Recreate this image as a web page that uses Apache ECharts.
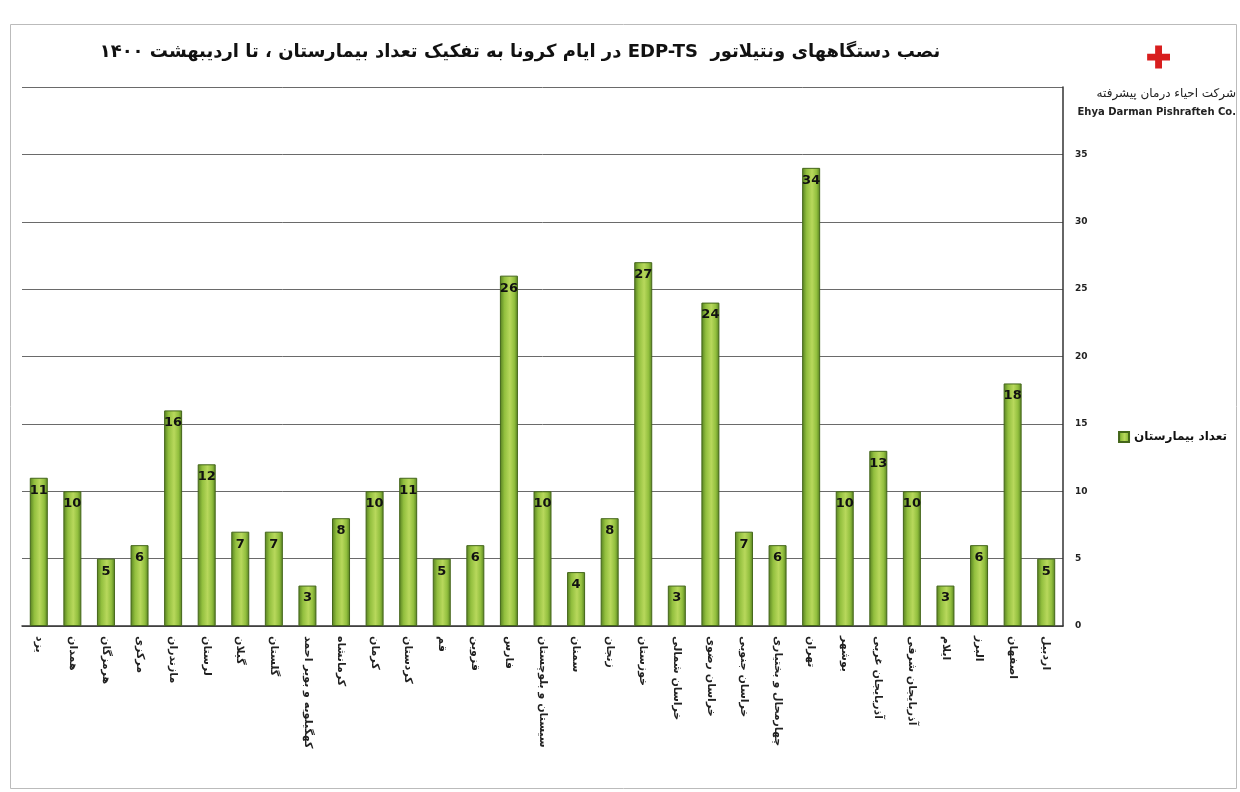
<!DOCTYPE html>
<html>
<head>
<meta charset="utf-8">
<script src="https://cdn.jsdelivr.net/npm/echarts@6/dist/echarts.min.js"></script>
<style>
  html, body { margin: 0; padding: 0; background: #fff; }
  #chart { width: 1240px; height: 792px; }
</style>
</head>
<body>
<div id="chart"></div>
<script>
// provinces, left to right as in the picture
var provinces = ['یزد', 'همدان', 'هرمزگان', 'مرکزی', 'مازندران', 'لرستان', 'گیلان', 'گلستان',
  'کهگیلویه و بویر احمد', 'کرمانشاه', 'کرمان', 'کردستان', 'قم', 'قزوین', 'فارس',
  'سیستان و بلوچستان', 'سمنان', 'زنجان', 'خوزستان', 'خراسان شمالی', 'خراسان رضوی',
  'خراسان جنوبی', 'چهارمحال و بختیاری', 'تهران', 'بوشهر', 'آذربایجان غربی',
  'آذربایجان شرقی', 'ایلام', 'البرز', 'اصفهان', 'اردبیل'];
var hospitals = [11, 10, 5, 6, 16, 12, 7, 7, 3, 8, 10, 11, 5, 6, 26, 10, 4, 8, 27, 3, 24, 7, 6, 34, 10, 13, 10, 3, 6, 18, 5];
var yTicks = [0, 5, 10, 15, 20, 25, 30, 35];

// RLE ... PDF keeps the mixed Persian / Latin title in right-to-left order
var titleText = '\u202Bنصب دستگاههای ونتیلاتور  EDP-TS در ایام کرونا به تفکیک تعداد بیمارستان ، تا اردیبهشت ۱۴۰۰\u202C';
var seriesName = 'تعداد بیمارستان';
var font = 'DejaVu Sans';

var chart = echarts.init(document.getElementById('chart'));
chart.setOption({
  backgroundColor: '#fff',
  textStyle: { fontFamily: font },
  title: {
    text: titleText,
    left: 515,
    top: 38,
    textAlign: 'center',
    textStyle: { fontSize: 18, fontWeight: 'bold', color: '#111', fontFamily: font }
  },
  legend: {
    data: [seriesName],
    orient: 'vertical',
    right: 8,
    top: 426,
    icon: 'rect',
    itemWidth: 10,
    itemHeight: 10,
    itemGap: 6,
    textStyle: { fontSize: 12, fontWeight: 'bold', color: '#111', fontFamily: font }
  },
  grid: { left: 22, right: 177, top: 87, bottom: 166 },
  xAxis: {
    type: 'category',
    data: provinces,
    axisLine: { lineStyle: { color: '#333', width: 1.5 } },
    axisTick: { show: false },
    axisLabel: {
      interval: 0,
      rotate: -90,
      margin: 10,
      fontSize: 11,
      fontWeight: 'bold',
      color: '#222',
      fontFamily: font
    }
  },
  yAxis: {
    type: 'value',
    position: 'right',
    min: 0,
    max: 40,
    interval: 5,
    axisLine: { show: true, lineStyle: { color: '#333', width: 1.5 } },
    axisTick: { show: false },
    axisLabel: {
      margin: 12,
      fontSize: 9,
      fontWeight: 'bold',
      color: '#222',
      formatter: function (v) { return yTicks.indexOf(v) >= 0 ? v : ''; }
    },
    splitLine: { lineStyle: { color: '#6a6a6a', width: 1 } }
  },
  series: [{
    name: seriesName,
    type: 'bar',
    data: hospitals,
    barWidth: 18,
    itemStyle: {
      borderColor: '#44661a',
      borderWidth: 1,
      color: new echarts.graphic.LinearGradient(0, 0, 1, 0, [
        { offset: 0, color: '#557f20' },
        { offset: 0.25, color: '#92bf3e' },
        { offset: 0.55, color: '#b8d85c' },
        { offset: 0.8, color: '#92bf3e' },
        { offset: 1, color: '#557f20' }
      ])
    },
    label: {
      show: true,
      position: 'insideTop',
      distance: 6,
      fontSize: 13,
      fontWeight: 'bold',
      color: '#111',
      fontFamily: font
    }
  }],
  graphic: [
    {
      type: 'rect',
      left: 8, top: 22,
      shape: { width: 1226, height: 764 },
      style: { fill: 'none', stroke: '#bbb', lineWidth: 1 },
      silent: true
    },
    {
      type: 'text',
      left: 1146, top: 45,
      style: { text: '✚', fontSize: 30, fill: '#d81e1e', fontWeight: 'bold' }
    },
    {
      type: 'text',
      right: 4, top: 88,
      style: { text: 'شرکت احیاء درمان پیشرفته', fontSize: 12, fill: '#222', fontFamily: font }
    },
    {
      type: 'text',
      right: 4, top: 107,
      style: { text: 'Ehya Darman Pishrafteh Co.', fontSize: 10, fontWeight: 'bold', fill: '#222', fontFamily: font }
    }
  ]
});
window.addEventListener('resize', function () { chart.resize(); });
</script>
</body>
</html>
